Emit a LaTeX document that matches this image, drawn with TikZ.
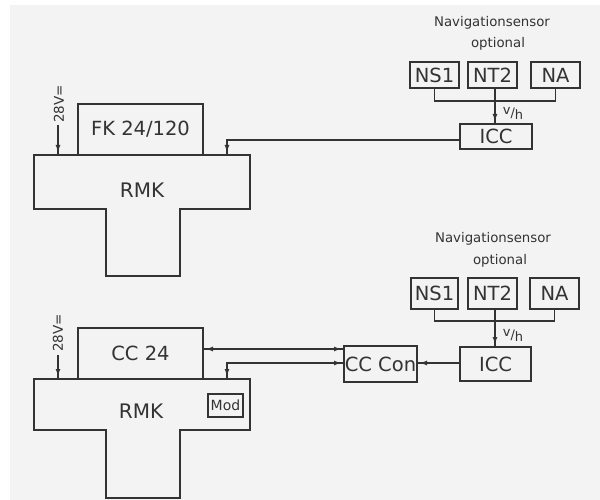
\documentclass[tikz,border=0pt]{standalone}
\usepackage{fontspec}
\setmainfont{DejaVu Sans}
\usetikzlibrary{arrows.meta,decorations.markings}
\definecolor{ink}{HTML}{333333}
\definecolor{paper}{HTML}{F3F3F3}
\tikzset{
  box/.style={draw=ink, line width=1.4pt, rectangle, inner sep=0pt, outer sep=0pt,
    text=ink, font=\fontsize{19.5}{20}\selectfont},
  plain/.style={inner sep=0pt, outer sep=0pt, text=ink},
  wire/.style={draw=ink, line width=1.2pt},
  tipE/.style={postaction={decorate}, decoration={markings,
    mark=at position -3pt with {\arrow[ink]{Latex[length=7pt,width=5pt]}}}},
  tipB/.style={postaction={decorate}, decoration={markings,
    mark=at position 3pt with {\arrowreversed[ink]{Latex[length=7pt,width=5pt]}},
    mark=at position -3pt with {\arrow[ink]{Latex[length=7pt,width=5pt]}}}},
  navtxt/.style={plain, font=\fontsize{13.3}{14}\selectfont},
  volt/.style={plain, rotate=90, font=\fontsize{13.5}{14}\selectfont},
  vh/.style={plain, font=\fontsize{13}{13}\selectfont},
}
\newcommand{\vhlabel}{\raisebox{3pt}{v}/\raisebox{-2pt}{h}}
\begin{document}
\begin{tikzpicture}[x=1pt,y=-1pt]
\useasboundingbox (0,0) rectangle (600,500);
\fill[white] (0,0) rectangle (600,500);
\fill[paper] (10,5) rectangle (600,500);

% ---------- top system ----------
\node[box, minimum width=125pt, minimum height=51pt] (fk) at (140.5,129.5) {FK 24/120};
\node[plain, minimum width=216pt, minimum height=54pt] (rmk1) at (142,182) {};
\draw[ink, line width=1.4pt] (34,155) -- (250,155) -- (250,209) -- (180,209) -- (180,276)
  -- (106,276) -- (106,209) -- (34,209) -- cycle;
\node[plain, font=\fontsize{20}{20}\selectfont] (rmk1t) at (142,190) {RMK};

\node[box, minimum width=49pt, minimum height=26pt] (ns1a) at (434.5,75) {NS1};
\node[box, minimum width=49pt, minimum height=26pt] (nt2a) at (492.5,75) {NT2};
\node[box, minimum width=49pt, minimum height=26pt] (naa) at (555.5,75) {NA};
\node[box, minimum width=72pt, minimum height=25pt] (icc1) at (496,136.5) {ICC};
\node[navtxt] (nav1) at (492,23) {Navigationsensor};
\node[navtxt] (opt1) at (498,44) {optional};
\node[vh] (vh1) at (513,113) {\vhlabel};

\coordinate (bus1) at (492.5,101);
\draw[wire] (ns1a.south) |- (bus1) -| (naa.south);
\coordinate (nt2aout) at (495,88);
\draw[wire,tipE] (nt2aout) -- (nt2aout |- icc1.north);
\coordinate (rmk1in) at (227,155);
\draw[wire,tipE] (icc1.west |- 0,140) -| (rmk1in);
\coordinate (v1) at (58,125);
\draw[wire,tipE] (v1) -- (v1 |- rmk1.north);
\node[volt] (v1t) at (59,104) {28V=};

% ---------- bottom system ----------
\node[box, minimum width=125pt, minimum height=51pt] (cc24) at (140.5,353.5) {CC 24};
\node[plain, minimum width=216pt, minimum height=51pt] (rmk2) at (142,404.5) {};
\draw[ink, line width=1.4pt] (34,379) -- (250,379) -- (250,430) -- (180,430) -- (180,498)
  -- (106,498) -- (106,430) -- (34,430) -- cycle;
\node[plain, font=\fontsize{20}{20}\selectfont] (rmk2t) at (141,411) {RMK};
\node[box, minimum width=35pt, minimum height=23pt, font=\fontsize{14}{14}\selectfont] (mod) at (225.5,405.5) {Mod};

\node[box, minimum width=47pt, minimum height=31pt] (ns1b) at (434.5,293.5) {NS1};
\node[box, minimum width=49pt, minimum height=31pt] (nt2b) at (492.5,293.5) {NT2};
\node[box, minimum width=49pt, minimum height=31pt] (nab) at (554.5,293.5) {NA};
\node[box, minimum width=71pt, minimum height=34pt] (icc2) at (495.5,364) {ICC};
\node[box, minimum width=73pt, minimum height=36pt] (ccc) at (380.5,364) {CC Con};
\node[navtxt] (nav2) at (493,239) {Navigationsensor};
\node[navtxt] (opt2) at (500,261) {optional};
\node[vh] (vh2) at (513,335) {\vhlabel};

\coordinate (bus2) at (492.5,321);
\draw[wire] (ns1b.south) |- (bus2) -| (nab.south);
\coordinate (nt2bout) at (495,309);
\draw[wire,tipE] (nt2bout) -- (nt2bout |- icc2.north);
\draw[wire,tipE] (icc2.west |- 0,363) -- (ccc.east |- 0,363);
\draw[wire,tipB] (cc24.east |- 0,349) -- (ccc.west |- 0,349);
\coordinate (rmk2in) at (227,379);
\draw[wire,tipB] (ccc.west |- 0,363) -| (rmk2in);
\coordinate (v2) at (58,355);
\draw[wire,tipE] (v2) -- (v2 |- rmk2.north);
\node[volt] (v2t) at (58,333) {28V=};
\end{tikzpicture}
\end{document}
